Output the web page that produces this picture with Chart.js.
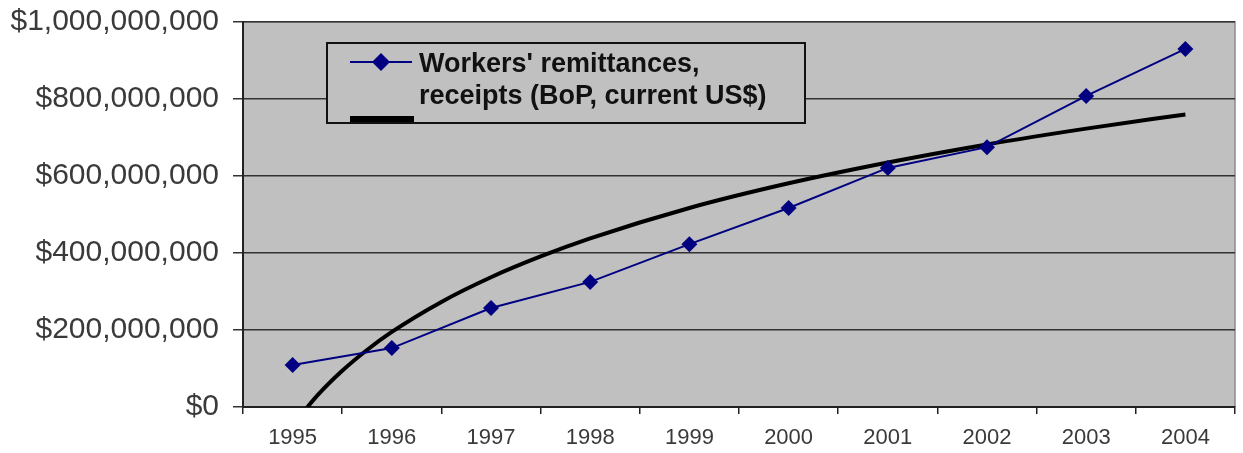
<!DOCTYPE html>
<html>
<head>
<meta charset="utf-8">
<script src="https://cdn.jsdelivr.net/npm/chart.js@4"></script>
<style>
    html, body { margin: 0; padding: 0; background: #fff; }
    #wrap { width: 1243px; height: 453px; }
</style>
</head>
<body>
<div id="wrap"><canvas id="remitChart" width="1243" height="453"></canvas></div>
<script>
// Workers' remittances, receipts (BoP, current US$)
const years = [1995, 1996, 1997, 1998, 1999, 2000, 2001, 2002, 2003, 2004];
const remittances = [109e6, 153e6, 257e6, 325e6, 423e6, 517e6, 621e6, 675e6, 808e6, 930e6];

// Trend curve, values
const trendYears = [1995, 1995.25, 1995.5, 1995.75, 1996, 1996.5, 1997, 1997.5, 1998, 1999, 2000, 2001, 2002, 2003, 2004];
const trendValues = [-48e6, 30e6, 94e6, 148e6, 195e6, 273e6, 337e6, 391e6, 438e6, 517e6, 581e6, 635e6, 682e6, 723e6, 760e6];

const yTicks = [0, 200e6, 400e6, 600e6, 800e6, 1000e6];
const legendLines = ["Workers' remittances,", "receipts (BoP, current US$)"];

const NAVY = '#000080';
const FONT = '"Liberation Sans", Arial, sans-serif';

// grey plot background + thin frame on top/right
const plotBackground = {
    id: 'plotBackground',
    beforeDraw(chart) {
        const { ctx, chartArea: a } = chart;
        ctx.save();
        ctx.fillStyle = '#c0c0c0';
        ctx.fillRect(a.left, a.top, a.right - a.left, a.bottom - a.top);
        ctx.strokeStyle = '#8a8a8a';
        ctx.lineWidth = 1.5;
        ctx.beginPath();
        ctx.moveTo(a.left, a.top);
        ctx.lineTo(a.right, a.top);
        ctx.lineTo(a.right, a.bottom);
        ctx.stroke();
        ctx.restore();
    }
};

// boxed legend inside the plot, like the original
const boxLegend = {
    id: 'boxLegend',
    afterDraw(chart) {
        const { ctx } = chart;
        const x = 327, y = 43, w = 478, h = 80;
        ctx.save();
        ctx.fillStyle = '#c0c0c0';
        ctx.fillRect(x, y, w, h);

        // blue series sample
        ctx.strokeStyle = NAVY;
        ctx.lineWidth = 2;
        ctx.beginPath();
        ctx.moveTo(350, 62);
        ctx.lineTo(412, 62);
        ctx.stroke();
        ctx.fillStyle = NAVY;
        ctx.beginPath();
        ctx.moveTo(381, 53);
        ctx.lineTo(390, 62);
        ctx.lineTo(381, 71);
        ctx.lineTo(372, 62);
        ctx.closePath();
        ctx.fill();

        // trend sample, sits on the bottom edge
        ctx.strokeStyle = '#000';
        ctx.lineWidth = 6;
        ctx.beginPath();
        ctx.moveTo(350, 119);
        ctx.lineTo(414, 119);
        ctx.stroke();

        ctx.strokeStyle = '#111';
        ctx.lineWidth = 2;
        ctx.strokeRect(x, y, w, h);

        ctx.fillStyle = '#111';
        ctx.font = 'bold 27px ' + FONT;
        ctx.textBaseline = 'alphabetic';
        ctx.fillText(legendLines[0], 419, 72);
        ctx.fillText(legendLines[1], 419, 104);
        ctx.restore();
    }
};

new Chart(document.getElementById('remitChart'), {
    type: 'line',
    data: {
        datasets: [{
            label: legendLines.join(' '),
            data: years.map((yr, i) => ({ x: yr, y: remittances[i] })),
            borderColor: NAVY,
            backgroundColor: NAVY,
            borderWidth: 2,
            pointStyle: 'rectRot',
            pointRadius: 8,
            pointBorderWidth: 0,
            tension: 0,
            order: 1
        }, {
            label: 'Trend',
            data: trendYears.map((yr, i) => ({ x: yr, y: trendValues[i] })),
            borderColor: '#000',
            borderWidth: 4,
            pointRadius: 0,
            cubicInterpolationMode: 'monotone',
            order: 2
        }]
    },
    options: {
        responsive: false,
        animation: false,
        events: [],
        layout: { padding: { top: 22, right: 5, left: 0, bottom: 0 } },
        plugins: {
            legend: { display: false },
            tooltip: { enabled: false }
        },
        scales: {
            x: {
                type: 'linear',
                min: 1994.5,
                max: 2004.5,
                afterFit(scale) {
                    scale.height = 46;
                    scale.paddingLeft = 0;
                    scale.paddingRight = 0;
                },
                ticks: {
                    stepSize: 0.5,
                    autoSkip: false,
                    maxRotation: 0,
                    color: '#3a3a3a',
                    padding: 11,
                    font: { family: FONT, size: 22 },
                    callback: v => Number.isInteger(v) ? String(v) : ''
                },
                grid: {
                    drawOnChartArea: false,
                    tickLength: 7,
                    lineWidth: 1.5,
                    color: c => (c.tick && Number.isInteger(c.tick.value)) ? 'rgba(0,0,0,0)' : '#222'
                },
                border: { color: '#222', width: 2 }
            },
            y: {
                min: 0,
                max: 1000e6,
                afterFit(scale) {
                    scale.width = 243;
                    scale.paddingTop = 0;
                    scale.paddingBottom = 0;
                },
                afterBuildTicks(scale) { scale.ticks = yTicks.map(v => ({ value: v })); },
                ticks: {
                    color: '#3a3a3a',
                    padding: 14,
                    font: { family: FONT, size: 30 },
                    callback: v => '$' + v.toLocaleString('en-US')
                },
                grid: {
                    color: '#333',
                    lineWidth: 1.5,
                    tickLength: 10
                },
                border: { color: '#222', width: 2 }
            }
        }
    },
    plugins: [plotBackground, boxLegend]
});
</script>
</body>
</html>
